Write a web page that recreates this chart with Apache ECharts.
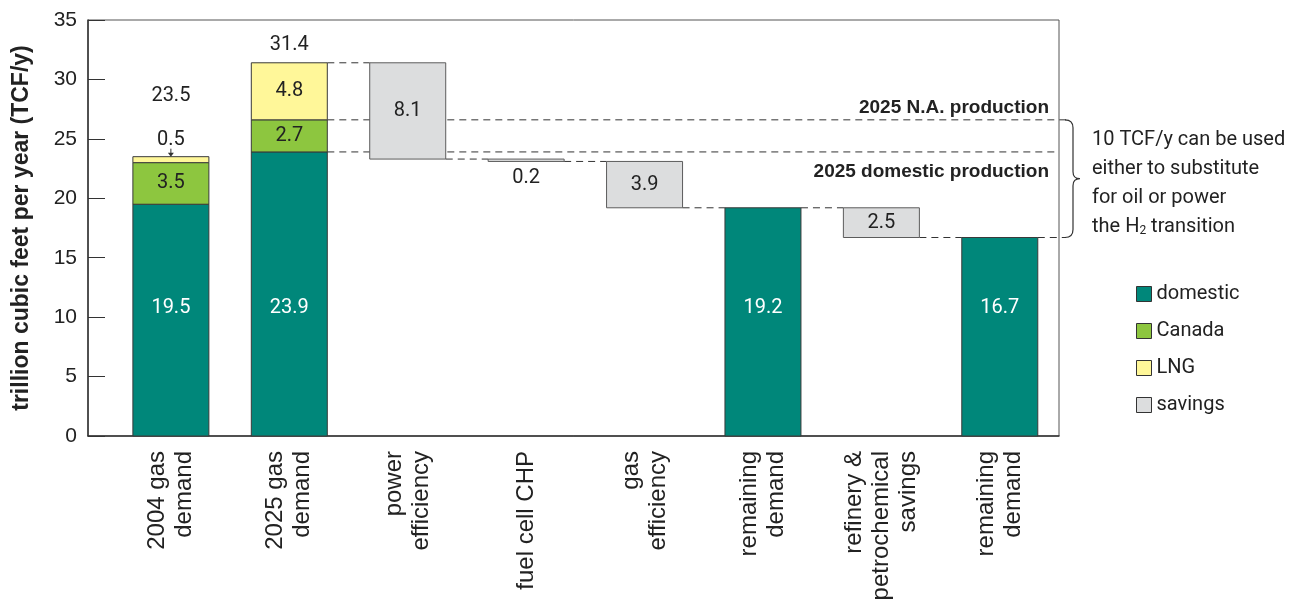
<!DOCTYPE html>
<html>
<head>
<meta charset="utf-8">
<script src="https://cdn.jsdelivr.net/npm/echarts@6/dist/echarts.min.js"></script>
<style>
  html, body { margin: 0; padding: 0; background: #fff; }
  #chart { width: 1294px; height: 611px; }
</style>
</head>
<body>
<div id="chart"></div>
<script>
// Natural gas demand waterfall, trillion cubic feet per year
const categories = [
  '2004 gas\ndemand',
  '2025 gas\ndemand',
  'power\nefficiency',
  'fuel cell CHP',
  'gas\nefficiency',
  'remaining\ndemand',
  'refinery &\npetrochemical\nsavings',
  'remaining\ndemand'
];
const domestic = [19.5, 23.9, null, null, null, 19.2, null, 16.7];
const canada   = [3.5, 2.7, null, null, null, null, null, null];
const lng      = [0.5, 4.8, null, null, null, null, null, null];
const savings  = [null, null, 8.1, 0.2, 3.9, null, 2.5, null];
const yTicks   = [0, 5, 10, 15, 20, 25, 30, 35];
const legendNames = ['domestic', 'Canada', 'LNG', 'savings'];
const productionLabels = ['2025 N.A. production', '2025 domestic production'];
const noteLines = ['10 TCF/y can be used', 'either to substitute', 'for oil or power', 'the H{sub|2} transition'];

const COLORS = { domestic: '#00877A', Canada: '#8DC63F', LNG: '#FFF799', savings: '#DCDDDE' };
const HALF = 38;               // half bar width, px
const X_MIN = -0.7, X_MAX = 7.5;
const DOMESTIC_LABEL_LEVEL = 10.8;
const LABEL_FONT = '20px Roboto, "Liberation Sans", sans-serif';
const BOLD_FONT = 'bold 19px "Liberation Sans", Arial, sans-serif';

const r1 = v => Math.round(v * 10) / 10;

// Build stacked segments and the running waterfall level
const segments = { domestic: [], Canada: [], LNG: [], savings: [] };
const columns = [];
let running = 0;
categories.forEach((_, i) => {
  if (savings[i] != null) {
    const top = running, bottom = r1(running - savings[i]);
    segments.savings.push([i, bottom, top, savings[i]]);
    columns.push({ savings: true, end: bottom, parts: null });
    running = bottom;
  } else {
    let base = 0;
    const parts = [];
    [['domestic', domestic], ['Canada', canada], ['LNG', lng]].forEach(([k, arr]) => {
      if (arr[i] != null) {
        const hi = r1(base + arr[i]);
        segments[k].push([i, base, hi, arr[i]]);
        parts.push({ top: hi, value: arr[i] });
        base = hi;
      }
    });
    columns.push({ savings: false, end: base, parts });
    running = base;
  }
});

function label(text, x, y, fill) {
  return {
    type: 'text', z2: 10,
    style: { text, x, y, align: 'center', verticalAlign: 'middle', fill, font: LABEL_FONT }
  };
}

function barRenderer(kind) {
  return function (params, api) {
    const i = api.value(0), lo = api.value(1), hi = api.value(2), v = api.value(3);
    const pTop = api.coord([i, hi]);
    const pBot = api.coord([i, lo]);
    const h = Math.max(pBot[1] - pTop[1], 1);
    const children = [{
      type: 'rect',
      shape: { x: pTop[0] - HALF, y: pTop[1], width: HALF * 2, height: h },
      style: { fill: COLORS[kind], stroke: kind === 'savings' ? '#5c5c5c' : '#3a3a3a', lineWidth: 1 }
    }];
    const txt = v.toFixed(1);
    if (kind === 'domestic') {
      children.push(label(txt, pTop[0], api.coord([i, DOMESTIC_LABEL_LEVEL])[1], '#fff'));
    } else if (v >= 1) {
      children.push(label(txt, pTop[0], (pTop[1] + pBot[1]) / 2, '#222'));
    } else if (kind === 'savings') {
      children.push(label(txt, pTop[0], pBot[1] + 17, '#222'));
    } else {
      // thin top segment: value above with a small pointer
      children.push(label(txt, pTop[0], pTop[1] - 17, '#222'));
      children.push({ type: 'line', shape: { x1: pTop[0], y1: pTop[1] - 8, x2: pTop[0], y2: pTop[1] - 3 },
        style: { stroke: '#333', lineWidth: 1 } });
      children.push({ type: 'polygon', shape: { points: [[pTop[0] - 3, pTop[1] - 4], [pTop[0] + 3, pTop[1] - 4], [pTop[0], pTop[1]]] },
        style: { fill: '#333' } });
    }
    return { type: 'group', children };
  };
}

function renderNotes(params, api) {
  const out = [];
  const dash = { stroke: '#333', lineWidth: 1, lineDash: [7, 5] };
  const cx = i => api.coord([i, 0])[0];
  const py = v => api.coord([0, v])[1];
  const xr = api.coord([X_MAX, 0])[0];
  const hline = (x1, x2, y) => out.push({ type: 'line', shape: { x1, y1: y, x2, y2: y }, style: dash });

  // column totals
  columns.forEach((c, i) => {
    if (c.parts && c.parts.length > 1) {
      const last = c.parts[c.parts.length - 1];
      const extra = last.value < 1 ? 43 : 0;
      out.push(label(c.end.toFixed(1), cx(i), py(c.end) - 18 - extra, '#222'));
    }
  });

  // connectors along the waterfall
  for (let i = 0; i < columns.length - 1; i++) {
    if (columns[i].savings || columns[i + 1].savings) {
      hline(cx(i) + HALF, cx(i + 1) - HALF, py(columns[i].end));
    }
  }
  const lastI = columns.length - 1;
  const braceBottom = py(columns[lastI].end);
  hline(cx(lastI) + HALF, xr + 7, braceBottom);

  // 2025 production levels
  const ref = columns[1];
  const naLevel = ref.parts[1].top, domLevel = ref.parts[0].top;
  hline(cx(1) + HALF, xr + 7, py(naLevel));
  hline(cx(1) + HALF, xr, py(domLevel));
  out.push({ type: 'text', style: { text: productionLabels[0], x: xr - 10, y: py(naLevel) - 12,
    align: 'right', verticalAlign: 'middle', fill: '#222', font: BOLD_FONT } });
  out.push({ type: 'text', style: { text: productionLabels[1], x: xr - 10, y: py(domLevel) + 20,
    align: 'right', verticalAlign: 'middle', fill: '#222', font: BOLD_FONT } });

  // brace spanning N.A. production down to remaining demand
  const yt = py(naLevel), yb = braceBottom, ym = (yt + yb) / 2;
  const x0 = xr + 6, x1 = x0 + 8, x2 = x0 + 15;
  out.push({
    type: 'path',
    shape: { pathData:
      `M${x0},${yt} Q${x1},${yt} ${x1},${yt + 8} L${x1},${ym - 7} Q${x1},${ym} ${x2},${ym} ` +
      `Q${x1},${ym} ${x1},${ym + 7} L${x1},${yb - 8} Q${x1},${yb} ${x0},${yb}` },
    style: { fill: null, stroke: '#333', lineWidth: 1.2 }
  });
  out.push({ type: 'text', style: {
    text: noteLines.join('\n'), x: xr + 33, y: ym + 5, align: 'left', verticalAlign: 'middle',
    fill: '#222', font: '20px Roboto, sans-serif', lineHeight: 29,
    rich: { sub: { fontSize: 12, fontFamily: 'Roboto', fill: '#222', padding: [8, 0, 0, 0] } }
  } });
  return { type: 'group', children: out };
}

const chart = echarts.init(document.getElementById('chart'), null, { renderer: 'canvas' });

const barSeries = legendNames.map(name => ({
  name,
  type: 'custom',
  z: 3,
  renderItem: barRenderer(name),
  itemStyle: { color: COLORS[name] },
  encode: { x: 0, y: [1, 2] },
  data: segments[name]
}));

chart.setOption({
  animation: false,
  backgroundColor: '#fff',
  grid: { left: 88, right: 235, top: 20, bottom: 175, show: true, borderColor: '#555', borderWidth: 1 },
  legend: {
    orient: 'vertical', left: 1136, top: 284, padding: 0,
    itemWidth: 15, itemHeight: 15, itemGap: 17,
    textStyle: { fontSize: 20, fontFamily: 'Roboto', color: '#222' },
    data: legendNames.map(n => ({ name: n, icon: 'rect', itemStyle: { color: COLORS[n], borderColor: '#333', borderWidth: 1 } }))
  },
  xAxis: {
    type: 'value', min: X_MIN, max: X_MAX,
    splitLine: { show: false },
    axisTick: { show: false },
    axisLine: { show: true, onZero: false, lineStyle: { color: '#333', width: 1.5 } },
    axisLabel: {
      customValues: categories.map((_, i) => i),
      formatter: v => categories[Math.round(v)],
      rotate: 90, margin: 15,
      fontSize: 24, lineHeight: 27, fontFamily: '"Liberation Sans", Arial, sans-serif', color: '#222'
    }
  },
  yAxis: {
    type: 'value', min: yTicks[0], max: yTicks[yTicks.length - 1], interval: yTicks[1] - yTicks[0],
    name: 'trillion cubic feet per year (TCF/y)', nameLocation: 'middle', nameGap: 55,
    nameTextStyle: { fontSize: 23, fontWeight: 'bold', fontFamily: '"Liberation Sans", Arial, sans-serif', color: '#222' },
    splitLine: { show: false },
    axisLine: { show: true, onZero: false, lineStyle: { color: '#333', width: 1.5 } },
    axisTick: { show: true, inside: true, length: 17, lineStyle: { color: '#333' } },
    axisLabel: { margin: 11, fontSize: 21, fontFamily: '"Liberation Sans", Arial, sans-serif', color: '#222' }
  },
  series: [
    { name: 'notes', type: 'custom', z: 1, renderItem: renderNotes, data: [[0, 0]], silent: true },
    ...barSeries
  ]
});
</script>
</body>
</html>
